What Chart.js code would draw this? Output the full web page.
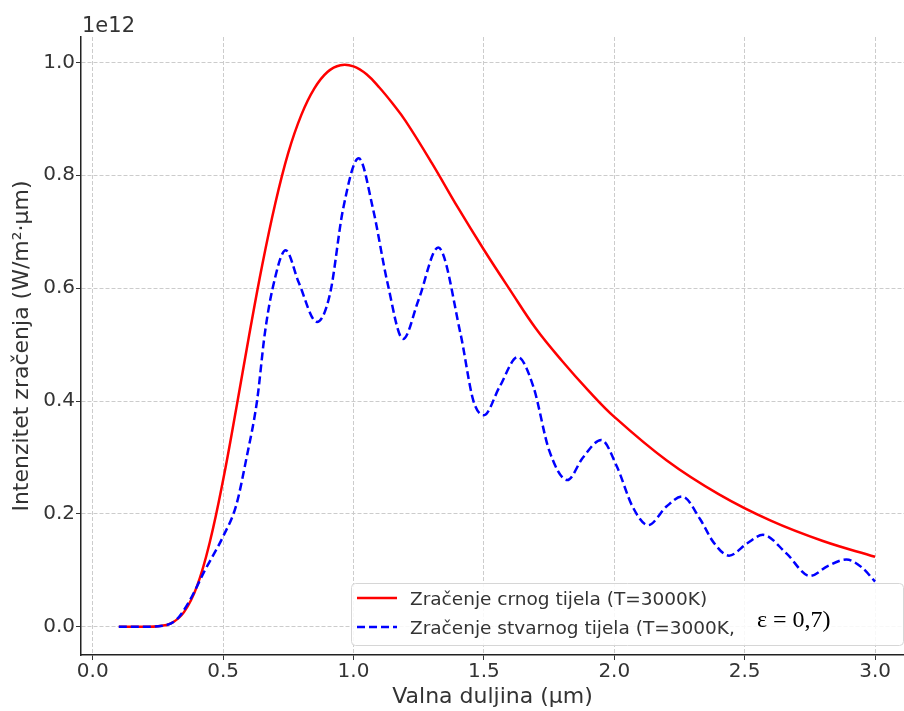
<!DOCTYPE html>
<html>
<head>
<meta charset="utf-8">
<script src="https://cdn.jsdelivr.net/npm/chart.js@4.4.1/dist/chart.umd.min.js"></script>
<style>
html, body { margin: 0; padding: 0; background: #fff; }
#wrap { width: 904px; height: 711px; }
</style>
</head>
<body>
<div id="wrap"><canvas id="chart" width="904" height="711"></canvas></div>
<script>
// wavelength in µm, intensity in units of 1e12 W/m²·µm
const wavelengthBlack = [0.10, 0.15, 0.20, 0.25, 0.30, 0.35, 0.40, 0.45, 0.50, 0.55, 0.60, 0.65, 0.70, 0.75, 0.80, 0.85, 0.90, 0.95, 1.00, 1.05, 1.10, 1.15, 1.20, 1.30, 1.40, 1.50, 1.60, 1.70, 1.80, 1.90, 2.00, 2.20, 2.40, 2.60, 2.80, 3.00];
const blackBody = [0, 0, 0, 0.001, 0.006, 0.026, 0.072, 0.152, 0.26, 0.386, 0.517, 0.641, 0.75, 0.84, 0.907, 0.954, 0.983, 0.995, 0.993, 0.979, 0.955, 0.927, 0.896, 0.822, 0.743, 0.668, 0.597, 0.528, 0.471, 0.419, 0.372, 0.295, 0.235, 0.188, 0.152, 0.124];

const wavelengthReal = [0.10, 0.20, 0.27, 0.32, 0.37, 0.43, 0.50, 0.55, 0.59, 0.63, 0.66, 0.69, 0.74, 0.79, 0.86, 0.91, 0.96, 1.02, 1.075, 1.13, 1.19, 1.25, 1.325, 1.41, 1.46, 1.50, 1.56, 1.63, 1.69, 1.75, 1.82, 1.88, 1.95, 2.01, 2.07, 2.13, 2.20, 2.26, 2.33, 2.38, 2.44, 2.51, 2.57, 2.66, 2.75, 2.82, 2.89, 2.95, 3.00];
const realBody = [0, 0, 0.002, 0.012, 0.045, 0.10, 0.16, 0.215, 0.30, 0.40, 0.52, 0.60, 0.667, 0.61, 0.54, 0.59, 0.74, 0.83, 0.74, 0.61, 0.51, 0.58, 0.672, 0.52, 0.40, 0.375, 0.425, 0.478, 0.425, 0.313, 0.26, 0.30, 0.331, 0.284, 0.213, 0.18, 0.213, 0.231, 0.19, 0.15, 0.126, 0.148, 0.163, 0.13, 0.09, 0.108, 0.119, 0.105, 0.08];

const seriesLabels = ['Zračenje crnog tijela (T=3000K)', 'Zračenje stvarnog tijela (T=3000K,'];
const epsilonLabel = 'ε = 0,7)';
const offsetLabel = '1e12';

const textColor = '#333333';
const sansFont = '"DejaVu Sans", sans-serif';

function points(xs, ys) {
    return xs.map((x, i) => ({ x: x, y: ys[i] }));
}

// "1e12" offset text and the legend box inside the plot
const overlayPlugin = {
    id: 'overlay',
    afterDraw(chart) {
        const { ctx, chartArea } = chart;
        ctx.save();
        ctx.fillStyle = textColor;
        ctx.font = '21px ' + sansFont;
        ctx.textBaseline = 'alphabetic';
        ctx.textAlign = 'left';
        ctx.fillText(offsetLabel, chartArea.left + 1, chartArea.top - 5);

        const bx = chartArea.right - 553, by = chartArea.bottom - 72, bw = 552, bh = 62;
        ctx.beginPath();
        ctx.roundRect(bx + 0.5, by + 0.5, bw, bh, 4);
        ctx.fillStyle = 'rgba(255,255,255,0.85)';
        ctx.fill();
        ctx.strokeStyle = '#d6d6d6';
        ctx.lineWidth = 1;
        ctx.stroke();

        const rows = [chart.data.datasets[0], chart.data.datasets[1]];
        rows.forEach((ds, i) => {
            const y = by + 15 + i * 29;
            ctx.beginPath();
            ctx.setLineDash(ds.borderDash || []);
            ctx.strokeStyle = ds.borderColor;
            ctx.lineWidth = ds.borderWidth;
            ctx.moveTo(bx + 6, y);
            ctx.lineTo(bx + 46, y);
            ctx.stroke();
            ctx.setLineDash([]);
            ctx.fillStyle = textColor;
            ctx.font = '18.5px ' + sansFont;
            ctx.textBaseline = 'middle';
            ctx.fillText(ds.label, bx + 59, y + 2);
        });
        ctx.font = '24px "Liberation Serif", "Times New Roman", serif';
        ctx.fillStyle = '#000';
        ctx.textBaseline = 'middle';
        ctx.fillText(epsilonLabel, bx + 406, by + 38);
        ctx.restore();
    }
};

new Chart(document.getElementById('chart'), {
    type: 'line',
    data: {
        datasets: [{
            label: seriesLabels[0],
            data: points(wavelengthBlack, blackBody),
            borderColor: '#ff0000',
            borderWidth: 2.5,
            pointRadius: 0,
            tension: 0.4,
            order: 1
        }, {
            label: seriesLabels[1],
            data: points(wavelengthReal, realBody),
            borderColor: '#0000ff',
            borderWidth: 2.5,
            borderDash: [8, 4],
            pointRadius: 0,
            cubicInterpolationMode: 'monotone',
            order: 0
        }]
    },
    options: {
        responsive: false,
        devicePixelRatio: 1,
        animation: false,
        layout: { padding: { top: 37, right: 0, left: 0, bottom: 0 } },
        plugins: {
            legend: { display: false },
            tooltip: { enabled: false }
        },
        scales: {
            x: {
                type: 'linear',
                min: -0.045,
                max: 3.111,
                ticks: {
                    stepSize: 0.5,
                    includeBounds: false,
                    maxRotation: 0,
                    padding: 0,
                    color: textColor,
                    font: { family: sansFont, size: 20 },
                    callback: v => v.toFixed(1)
                },
                grid: { color: '#cccccc', lineWidth: 1, tickColor: textColor, tickLength: 5, tickBorderDash: [] },
                border: { display: true, color: '#222222', width: 1.5, dash: [4, 2] },
                title: {
                    display: true,
                    text: 'Valna duljina (µm)',
                    color: textColor,
                    font: { family: sansFont, size: 22 },
                    padding: { top: 0, bottom: 1 }
                },
                afterFit: s => { s.height = 56; }
            },
            y: {
                min: -0.05,
                max: 1.045,
                ticks: {
                    stepSize: 0.2,
                    includeBounds: false,
                    padding: 1,
                    color: textColor,
                    font: { family: sansFont, size: 20 },
                    callback: v => v.toFixed(1)
                },
                grid: { color: '#cccccc', lineWidth: 1, tickColor: textColor, tickLength: 5, tickBorderDash: [] },
                border: { display: true, color: '#222222', width: 1.5, dash: [4, 2] },
                title: {
                    display: true,
                    text: 'Intenzitet zračenja (W/m²·µm)',
                    color: textColor,
                    font: { family: sansFont, size: 22 },
                    padding: { top: 9, bottom: 0 }
                },
                afterFit: s => { s.width = 81; }
            }
        }
    },
    plugins: [overlayPlugin]
});
</script>
</body>
</html>
